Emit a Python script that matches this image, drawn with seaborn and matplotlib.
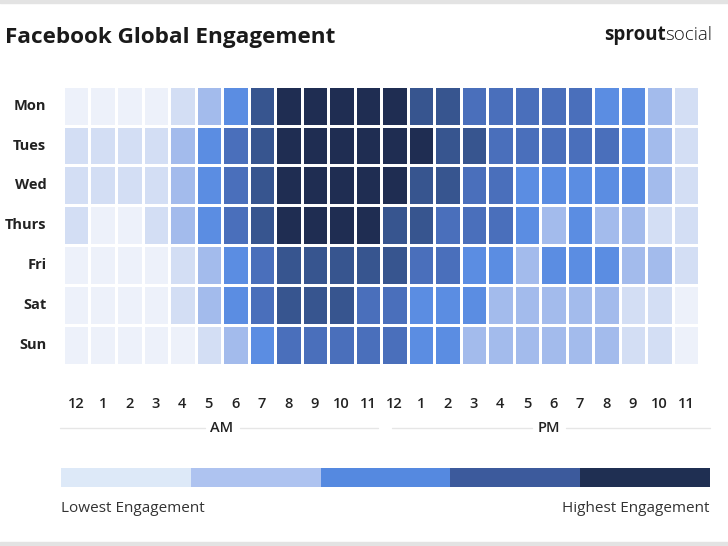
import numpy as np
import pandas as pd
import matplotlib.pyplot as plt
import seaborn as sns
from matplotlib.colors import ListedColormap

# engagement level per cell, 0 (lowest) .. 6 (highest)
days = ['Mon', 'Tues', 'Wed', 'Thurs', 'Fri', 'Sat', 'Sun']
hours = ['12', '1', '2', '3', '4', '5', '6', '7', '8', '9', '10', '11',
         '12', '1', '2', '3', '4', '5', '6', '7', '8', '9', '10', '11']

mon   = [0, 0, 0, 0, 1, 2, 3, 5, 6, 6, 6, 6, 6, 5, 5, 4, 4, 4, 4, 4, 3, 3, 2, 1]
tues  = [1, 1, 1, 1, 2, 3, 4, 5, 6, 6, 6, 6, 6, 6, 5, 5, 4, 4, 4, 4, 4, 3, 2, 1]
wed   = [1, 1, 1, 1, 2, 3, 4, 5, 6, 6, 6, 6, 6, 5, 5, 4, 4, 3, 3, 3, 3, 3, 2, 1]
thurs = [1, 0, 0, 1, 2, 3, 4, 5, 6, 6, 6, 6, 5, 5, 4, 4, 4, 3, 2, 3, 2, 2, 1, 1]
fri   = [0, 0, 0, 0, 1, 2, 3, 4, 5, 5, 5, 5, 5, 4, 4, 3, 3, 2, 3, 3, 3, 2, 2, 1]
sat   = [0, 0, 0, 0, 1, 2, 3, 4, 5, 5, 5, 4, 4, 3, 3, 3, 2, 2, 2, 2, 2, 1, 1, 0]
sun   = [0, 0, 0, 0, 0, 1, 2, 3, 4, 4, 4, 4, 4, 3, 3, 2, 2, 2, 2, 2, 2, 1, 1, 0]

level_colors = ['#edf1fa', '#d3def4', '#a3bbec', '#5b8de2',
                '#4a6fbb', '#37558f', '#1f2d52']
legend_colors = ['#dde9f8', '#aec3f0', '#5589e0', '#3c5a9c', '#1f2f52']

df = pd.DataFrame([mon, tues, wed, thurs, fri, sat, sun], index=days)

sns.set_style('white')
plt.rcParams['font.family'] = ['Open Sans', 'DejaVu Sans']

fig = plt.figure(figsize=(7.28, 5.46), dpi=100)

# --- main heatmap ---
ax = fig.add_axes([0.0865, 0.332, 0.874, 0.511])
sns.heatmap(df, ax=ax, cmap=ListedColormap(level_colors), vmin=-0.5, vmax=6.5,
            cbar=False, linewidths=2, linecolor='white', square=False)
ax.set_xticklabels(hours, rotation=0, fontsize=10.5, fontweight='semibold', color='#222222')
ax.set_yticklabels(days, rotation=0, fontsize=10.5, fontweight='bold', color='#222222')
ax.tick_params(axis='x', length=0, pad=23)
ax.tick_params(axis='y', length=0, pad=12)
ax.set_xlabel('')
ax.set_ylabel('')

# --- AM / PM lines ---
y_ampm = 1 - 428 / 546
fig.add_artist(plt.Line2D([60 / 728, 205 / 728], [y_ampm, y_ampm], color='#e6e6e6', lw=1))
fig.add_artist(plt.Line2D([240 / 728, 378 / 728], [y_ampm, y_ampm], color='#e6e6e6', lw=1))
fig.add_artist(plt.Line2D([392 / 728, 532 / 728], [y_ampm, y_ampm], color='#e6e6e6', lw=1))
fig.add_artist(plt.Line2D([566 / 728, 710 / 728], [y_ampm, y_ampm], color='#e6e6e6', lw=1))
fig.text(222 / 728, y_ampm, 'AM', ha='center', va='center', fontsize=10.5,
         fontweight='semibold', color='#222222')
fig.text(549 / 728, y_ampm, 'PM', ha='center', va='center', fontsize=10.5,
         fontweight='semibold', color='#222222')

# --- legend bar ---
lax = fig.add_axes([61 / 728, 1 - 487 / 546, 649 / 728, 19 / 546])
sns.heatmap(pd.DataFrame([range(5)]), ax=lax, cmap=ListedColormap(legend_colors),
            vmin=-0.5, vmax=4.5, cbar=False, linewidths=0)
lax.set_xticks([])
lax.set_yticks([])
fig.text(61 / 728, 1 - 508 / 546, 'Lowest Engagement', ha='left', va='center',
         fontsize=11, color='#333333')
fig.text(710 / 728, 1 - 508 / 546, 'Highest Engagement', ha='right', va='center',
         fontsize=11, color='#333333')

# --- title and brand ---
fig.text(5 / 728, 1 - 38 / 546, 'Facebook Global Engagement', ha='left', va='center',
         fontsize=16.2, fontweight='bold', color='#1a1a1a')
t = fig.text(604 / 728, 1 - 35 / 546, 'sprout', ha='left', va='center',
             fontsize=13.5, fontweight='bold', color='#1a1a1a')
fig.canvas.draw()
bb = t.get_window_extent()
fig.text(bb.x1 / fig.bbox.width, 1 - 35 / 546, 'social', ha='left', va='center',
         fontsize=13.5, fontweight='light', color='#1a1a1a')

# thin grey edges top and bottom
fig.add_artist(plt.Rectangle((0, 0.994), 1, 0.006, color='#e3e3e3', transform=fig.transFigure))
fig.add_artist(plt.Rectangle((0, 0), 1, 0.008, color='#e3e3e3', transform=fig.transFigure))

fig.savefig('out.png', dpi=100)
